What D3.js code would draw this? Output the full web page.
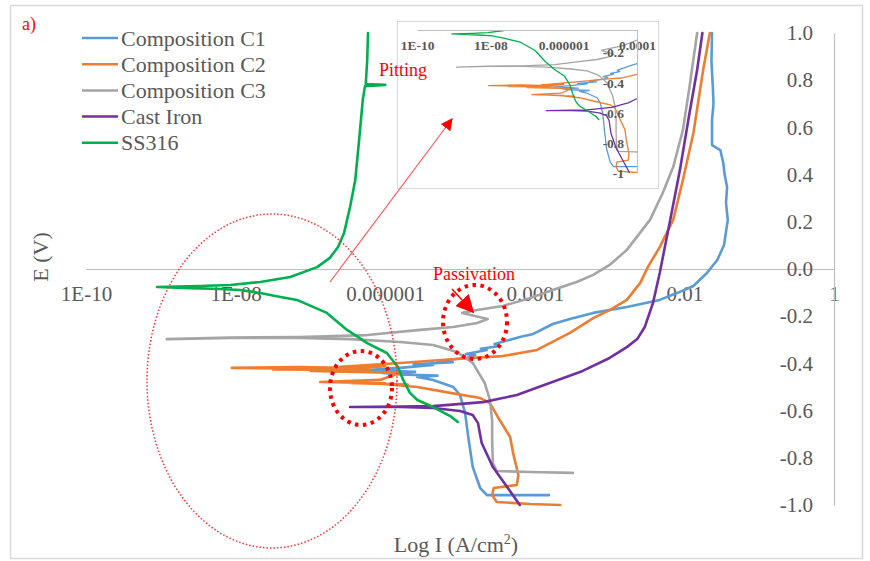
<!DOCTYPE html>
<html>
<head>
<meta charset="utf-8">
<script src="https://cdn.jsdelivr.net/npm/d3@7"></script>
<style>
  html, body { margin: 0; padding: 0; background: #fff; }
  svg { display: block; }
  text { font-family: "Liberation Serif", "Times New Roman", serif; }
</style>
</head>
<body>
<svg id="chart" width="870" height="561"></svg>
<script>
// Potentiodynamic polarisation curves: [current density (A/cm²), potential (V)]
const seriesNames  = ["Composition C1", "Composition C2", "Composition C3", "Cast Iron", "SS316"];
const seriesColors = ["#5B9BD5", "#ED7D31", "#A5A5A5", "#7030A0", "#00B050"];

const compositionC1 = [
  [1.55e-4,-0.958],[6.31e-5,-0.958],[2.29e-5,-0.958],[1.86e-5,-0.928],[1.48e-5,-0.839],
  [1.29e-5,-0.712],[1.17e-5,-0.610],[1.0e-5,-0.534],[8.13e-6,-0.500],[4.37e-6,-0.470],
  [2.69e-6,-0.458],[5.01e-6,-0.452],[1.58e-6,-0.447],[9.33e-7,-0.441],[2.51e-6,-0.436],
  [5.75e-7,-0.428],[1.58e-6,-0.419],[4.37e-6,-0.407],[2.4e-6,-0.404],[8.0e-6,-0.395],
  [5.0e-6,-0.390],[1.23e-5,-0.377],[1.6e-5,-0.365],[1.2e-5,-0.360],[2.29e-5,-0.343],
  [1.9e-5,-0.338],[3.39e-5,-0.326],[2.9e-5,-0.318],[6.31e-5,-0.288],[9.55e-5,-0.275],
  [1.74e-4,-0.233],[2.95e-4,-0.212],[6.03e-4,-0.186],[1.70e-3,-0.161],[4.68e-3,-0.131],
  [7.94e-3,-0.102],[1.32e-2,-0.072],[2.0e-2,-0.017],[2.75e-2,0.038],[3.39e-2,0.102],
  [3.80e-2,0.208],[3.6e-2,0.280],[3.72e-2,0.347],[3.45e-2,0.400],[3.31e-2,0.449],
  [3.02e-2,0.504],[2.34e-2,0.525],[2.34e-2,0.631],[2.45e-2,0.700],[2.40e-2,0.771],
  [2.30e-2,0.880],[2.34e-2,1.0]
];

const compositionC2 = [
  [2.19e-4,-1.0],[8.71e-5,-0.996],[3.09e-5,-0.987],[2.69e-5,-0.958],[2.82e-5,-0.928],
  [5.75e-5,-0.915],[6.03e-5,-0.873],[5.13e-5,-0.780],[4.68e-5,-0.712],[3.39e-5,-0.640],
  [2.51e-5,-0.568],[1.86e-5,-0.547],[7.41e-6,-0.525],[2.69e-6,-0.500],[9.33e-7,-0.487],
  [2.0e-6,-0.490],[3.39e-7,-0.483],[1.0e-6,-0.484],[1.35e-7,-0.479],[8.51e-7,-0.470],
  [1.58e-6,-0.440],[1.0e-7,-0.432],[6.31e-7,-0.428],[3.16e-8,-0.426],[2.51e-7,-0.424],
  [8.91e-9,-0.419],[7.24e-8,-0.415],[3.98e-7,-0.420],[1.0e-6,-0.412],[2.51e-7,-0.414],
  [1.58e-6,-0.398],[1.35e-5,-0.377],[3.72e-5,-0.369],[1.07e-4,-0.343],[2.95e-4,-0.271],
  [6.03e-4,-0.208],[1.0e-3,-0.174],[1.70e-3,-0.131],[2.57e-3,-0.059],[3.24e-3,0.008],
  [4.68e-3,0.093],[7.08e-3,0.208],[9.55e-3,0.377],[1.32e-2,0.576],[1.78e-2,0.843],
  [2.19e-2,1.0]
];

const compositionC3 = [
  [3.24e-4,-0.864],[8.71e-5,-0.860],[3.09e-5,-0.856],[2.75e-5,-0.822],[2.69e-5,-0.725],
  [2.69e-5,-0.640],[2.51e-5,-0.555],[2.14e-5,-0.483],[1.48e-5,-0.398],[9.12e-6,-0.352],
  [4.37e-6,-0.322],[1.58e-6,-0.309],[3.39e-7,-0.297],[7.24e-8,-0.292],[8.51e-9,-0.292],
  [1.20e-9,-0.297],[8.51e-9,-0.290],[7.24e-8,-0.288],[5.75e-7,-0.280],[2.95e-6,-0.258],
  [8.13e-6,-0.246],[1.70e-5,-0.229],[2.34e-5,-0.212],[1.07e-5,-0.186],[1.70e-5,-0.174],
  [3.72e-5,-0.157],[8.71e-5,-0.123],[1.74e-4,-0.089],[3.63e-4,-0.055],[6.03e-4,-0.025],
  [1.0e-3,0.017],[1.70e-3,0.081],[3.47e-3,0.208],[5.13e-3,0.322],[7.08e-3,0.432],
  [9.55e-3,0.589],[1.17e-2,0.771],[1.48e-2,1.0]
];

const castIron = [
  [6.31e-5,-1.0],[4.27e-5,-0.924],[2.75e-5,-0.839],[1.95e-5,-0.737],[1.74e-5,-0.653],
  [1.48e-5,-0.619],[1.0e-5,-0.602],[4.37e-6,-0.589],[1.58e-6,-0.585],[3.39e-7,-0.585],
  [1.58e-6,-0.583],[4.37e-6,-0.581],[2.04e-5,-0.564],[5.75e-5,-0.534],[1.58e-4,-0.483],
  [4.37e-4,-0.432],[1.0e-3,-0.377],[1.70e-3,-0.331],[2.34e-3,-0.297],[2.95e-3,-0.246],
  [3.80e-3,-0.144],[4.68e-3,-0.017],[6.46e-3,0.208],[8.71e-3,0.419],[1.17e-2,0.661],
  [1.48e-2,0.843],[1.74e-2,1.0]
];

const ss316 = [
  [9.33e-6,-0.648],[7.41e-6,-0.623],[4.37e-6,-0.585],[2.69e-6,-0.555],[2.14e-6,-0.525],
  [1.74e-6,-0.470],[1.48e-6,-0.415],[1.05e-6,-0.356],[5.75e-7,-0.314],[3.09e-7,-0.258],
  [1.66e-7,-0.186],[6.61e-8,-0.131],[3.39e-8,-0.114],[2.14e-8,-0.102],[1.15e-8,-0.089],
  [6.17e-9,-0.085],[2.45e-9,-0.081],[8.91e-10,-0.076],[3.31e-9,-0.072],[8.51e-9,-0.068],
  [2.14e-8,-0.055],[5.37e-8,-0.034],[1.23e-7,0.008],[1.82e-7,0.047],[2.34e-7,0.093],
  [2.82e-7,0.153],[3.39e-7,0.263],[3.98e-7,0.377],[4.57e-7,0.576],[5.01e-7,0.716],
  [5.37e-7,0.775],[1.0e-6,0.780],[5.50e-7,0.784],[5.75e-7,0.886],[5.89e-7,1.0]
];

const seriesData = [compositionC1, compositionC2, compositionC3, castIron, ss316];

// Axis ticks
const xTickValues = [1e-10, 1e-8, 1e-6, 1e-4, 1e-2, 1];
const xTickLabels = ["1E-10", "1E-08", "0.000001", "0.0001", "0.01", "1"];
const yTickValues = [-1, -0.8, -0.6, -0.4, -0.2, 0, 0.2, 0.4, 0.6, 0.8, 1];
const yTickLabels = ["-1.0", "-0.8", "-0.6", "-0.4", "-0.2", "0.0", "0.2", "0.4", "0.6", "0.8", "1.0"];

const insetXTickValues = [1e-10, 1e-8, 1e-6, 1e-4];
const insetXTickLabels = ["1E-10", "1E-08", "0.000001", "0.0001"];
const insetYTickValues = [-0.2, -0.4, -0.6, -0.8, -1];
const insetYTickLabels = ["-0.2", "-0.4", "-0.6", "-0.8", "-1"];

const svg = d3.select("#chart");
const serif = '"Liberation Serif", "Times New Roman", serif';
const labelGray = "#595959";
const axisGray = "#BFBFBF";

// Outer frame
svg.append("rect")
  .attr("x", 10.5).attr("y", 5.5).attr("width", 852).attr("height", 553)
  .attr("fill", "#fff").attr("stroke", "#D9D9D9").attr("stroke-width", 1.5);

// Main scales
const x = d3.scaleLog().domain([1e-10, 1]).range([86, 834]);
const y = d3.scaleLinear().domain([-1, 1]).range([505, 33]);

// Horizontal axis through E = 0
const xAxis = d3.axisBottom(x)
  .tickValues(xTickValues)
  .tickFormat((d, i) => xTickLabels[i])
  .tickSize(0).tickPadding(17);
const gx = svg.append("g").attr("transform", `translate(0,${y(0)})`).call(xAxis);
gx.attr("font-family", null);
gx.select(".domain").attr("stroke", axisGray).attr("stroke-width", 1.2);
gx.selectAll("text").attr("fill", labelGray).style("font-size", "21px").style("font-family", serif);

// Vertical axis at I = 1
const yAxis = d3.axisLeft(y)
  .tickValues(yTickValues)
  .tickFormat((d, i) => yTickLabels[i])
  .tickSize(0).tickPadding(21);
const gy = svg.append("g").attr("transform", `translate(${x(1)},0)`).call(yAxis);
gy.attr("font-family", null);
gy.select(".domain").attr("stroke", axisGray).attr("stroke-width", 1.2);
gy.selectAll("text").attr("fill", labelGray).style("font-size", "21px").style("font-family", serif);

// Curves
svg.append("clipPath").attr("id", "plotClip")
  .append("rect").attr("x", 80).attr("y", 28).attr("width", 760).attr("height", 482);

const line = d3.line().x(d => x(d[0])).y(d => y(d[1]));
const curves = svg.append("g").attr("clip-path", "url(#plotClip)");
seriesData.forEach((data, i) => {
  curves.append("path")
    .datum(data)
    .attr("d", line)
    .attr("fill", "none")
    .attr("stroke", seriesColors[i])
    .attr("stroke-width", 2.6)
    .attr("stroke-linejoin", "round")
    .attr("stroke-linecap", "round");
});

// Axis titles
svg.append("text")
  .attr("transform", "translate(48,257) rotate(-90)")
  .attr("text-anchor", "middle")
  .attr("fill", labelGray).style("font-size", "22px").style("font-family", serif)
  .text("E (V)");

const xTitle = svg.append("text")
  .attr("x", 456).attr("y", 552)
  .attr("text-anchor", "middle")
  .attr("fill", labelGray).style("font-size", "22px").style("font-family", serif);
xTitle.append("tspan").text("Log I (A/cm");
xTitle.append("tspan").attr("dy", -8).style("font-size", "14px").text("2");
xTitle.append("tspan").attr("dy", 8).text(")");

// Legend
const legend = svg.append("g");
seriesNames.forEach((name, i) => {
  const ly = 38 + i * 26.2;
  legend.append("line")
    .attr("x1", 82).attr("x2", 118).attr("y1", ly).attr("y2", ly)
    .attr("stroke", seriesColors[i]).attr("stroke-width", 2.5);
  legend.append("text")
    .attr("x", 121).attr("y", ly + 7.5)
    .attr("fill", labelGray).style("font-size", "22px").style("font-family", serif)
    .text(name);
});

// Panel tag
svg.append("text").attr("x", 22).attr("y", 30)
  .attr("fill", "#FF0000").style("font-size", "18px").style("font-family", serif).text("a)");

// Inset: enlarged view of the low-current region
const inset = svg.append("g");
inset.append("rect")
  .attr("x", 397.5).attr("y", 21.5).attr("width", 261).attr("height", 167)
  .attr("fill", "#fff").attr("stroke", "#D9D9D9").attr("stroke-width", 1);

const ix = d3.scaleLog().domain([1e-10, 1e-4]).range([417, 637]);
const iy = d3.scaleLinear().domain([-1, -0.05]).range([173, 30]);

svg.append("clipPath").attr("id", "insetClip")
  .append("rect").attr("x", 417).attr("y", 30).attr("width", 220).attr("height", 143);

const iline = d3.line().x(d => ix(d[0])).y(d => iy(d[1]));
const icurves = inset.append("g").attr("clip-path", "url(#insetClip)");
seriesData.forEach((data, i) => {
  icurves.append("path")
    .datum(data)
    .attr("d", iline)
    .attr("fill", "none")
    .attr("stroke", seriesColors[i])
    .attr("stroke-width", 1.3)
    .attr("stroke-linejoin", "round");
});

const ixAxis = d3.axisBottom(ix)
  .tickValues(insetXTickValues)
  .tickFormat((d, i) => insetXTickLabels[i])
  .tickSize(0).tickPadding(10);
const igx = inset.append("g").attr("transform", `translate(0,${iy(-0.05)})`).call(ixAxis);
igx.attr("font-family", null);
igx.select(".domain").attr("stroke", axisGray).attr("stroke-width", 1);
igx.selectAll("text").attr("fill", labelGray).style("font-size", "13.5px")
  .style("font-weight", "bold").style("font-family", serif);

const iyAxis = d3.axisLeft(iy)
  .tickValues(insetYTickValues)
  .tickFormat((d, i) => insetYTickLabels[i])
  .tickSize(0).tickPadding(13);
const igy = inset.append("g").attr("transform", `translate(${ix(1e-4)},0)`).call(iyAxis);
igy.attr("font-family", null);
igy.select(".domain").attr("stroke", axisGray).attr("stroke-width", 1);
igy.selectAll("text").attr("fill", labelGray).style("font-size", "13.5px")
  .style("font-weight", "bold").style("font-family", serif);

// Annotations
const defs = svg.append("defs");
defs.append("marker").attr("id", "headThin")
  .attr("viewBox", "0 0 10 10").attr("refX", 9).attr("refY", 5)
  .attr("markerWidth", 12).attr("markerHeight", 12).attr("markerUnits", "userSpaceOnUse")
  .attr("orient", "auto")
  .append("path").attr("d", "M0,0 L10,5 L0,10 Z").attr("fill", "#FF0000");
defs.append("marker").attr("id", "headBold")
  .attr("viewBox", "0 0 10 10").attr("refX", 9).attr("refY", 5)
  .attr("markerWidth", 18).attr("markerHeight", 18).attr("markerUnits", "userSpaceOnUse")
  .attr("orient", "auto")
  .append("path").attr("d", "M0,0 L10,5 L0,10 Z").attr("fill", "#FF0000");

// Large dotted region outline
svg.append("ellipse")
  .attr("cx", 272).attr("cy", 381).attr("rx", 125).attr("ry", 167)
  .attr("fill", "none").attr("stroke", "#FF3030").attr("stroke-width", 1.5)
  .attr("stroke-dasharray", "1.5,2");

// Small highlighted spots
[[361, 388, 31, 37], [475, 322, 32, 37]].forEach(([cx, cy, rx, ry]) => {
  svg.append("ellipse")
    .attr("cx", cx).attr("cy", cy).attr("rx", rx).attr("ry", ry)
    .attr("fill", "none").attr("stroke", "#FF0000").attr("stroke-width", 4)
    .attr("stroke-dasharray", "3.5,4.5");
});

// Arrow to inset
svg.append("line")
  .attr("x1", 330).attr("y1", 282).attr("x2", 452).attr("y2", 119)
  .attr("stroke", "#FF5A5A").attr("stroke-width", 1.2)
  .attr("marker-end", "url(#headThin)");

// Passivation arrow
svg.append("line")
  .attr("x1", 452).attr("y1", 289).attr("x2", 473).attr("y2", 312)
  .attr("stroke", "#FF0000").attr("stroke-width", 1.5)
  .attr("marker-end", "url(#headBold)");

svg.append("text").attr("x", 433).attr("y", 280)
  .attr("fill", "#FF0000").style("font-size", "18px").style("font-family", serif).text("Passivation");
svg.append("text").attr("x", 379).attr("y", 76)
  .attr("fill", "#FF0000").style("font-size", "18px").style("font-family", serif).text("Pitting");
</script>
</body>
</html>
